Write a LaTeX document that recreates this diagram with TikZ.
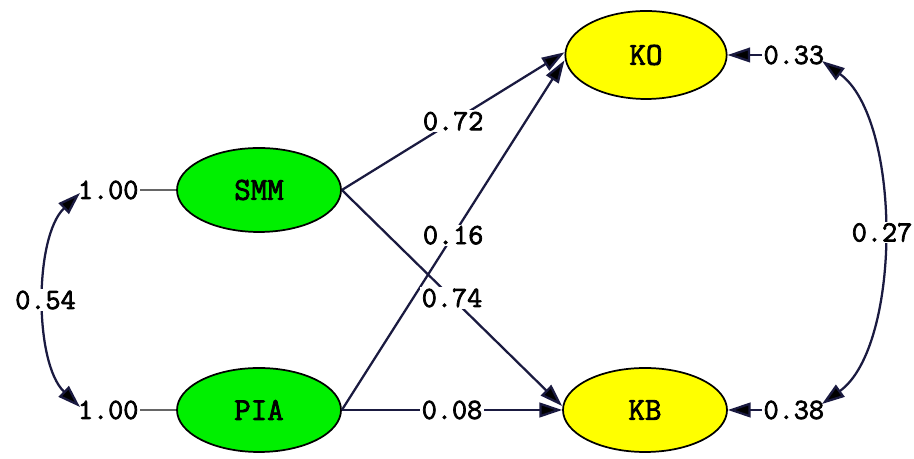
\documentclass[tikz,border=0pt]{standalone}
\usepackage{fontspec}
\setmonofont[AutoFakeBold=2.5]{Latin Modern Mono}
\usetikzlibrary{arrows.meta,shapes.geometric}
\definecolor{lvgreen}{HTML}{00F000}
\definecolor{lvyellow}{HTML}{FFFF00}
\definecolor{pathcol}{HTML}{1A1A40}
\begin{document}
\begin{tikzpicture}[x=0.75pt,y=0.75pt,
  latent/.style={ellipse,draw=black,line width=1.3pt,minimum width=123pt,minimum height=63pt,inner sep=0pt,font=\ttfamily\bfseries\fontsize{24}{26}\selectfont},
  num/.style={font=\ttfamily\bfseries\fontsize{22}{24}\selectfont,inner sep=1pt},
  lbl/.style={num,fill=white},
  tip/.style={-{Triangle[length=17pt,width=11pt,fill=black]}},
  twotip/.style={{Triangle[length=17pt,width=11pt,fill=black]}-{Triangle[length=17pt,width=11pt,fill=black]}},
  pathline/.style={draw=pathcol,line width=1.7pt},
  thin/.style={draw=gray!80!black,line width=0.8pt}]
\useasboundingbox (0,0) rectangle (914,459);
% latent variables
\node[latent,fill=lvgreen] (SMM) at (259,269) {SMM};
\node[latent,fill=lvgreen] (PIA) at (259,49) {PIA};
\node[latent,fill=lvyellow,minimum height=66pt,minimum width=121pt] (KO) at (646,404) {KO};
\node[latent,fill=lvyellow] (KB) at (645,49) {KB};
% variances
\node[num,anchor=east] (v1) at (140,269) {1.00};
\node[num,anchor=east] (v2) at (140,49) {1.00};
\node[num,anchor=west] (e1) at (762,404) {0.33};
\node[num,anchor=west] (e2) at (762,49) {0.38};
\draw[thin] (v1.east) -- (SMM.west);
\draw[thin] (v2.east) -- (PIA.west);
\draw[pathline,tip] (e1.west) -- (KO.east);
\draw[pathline,tip] (e2.west) -- (KB.east);
% covariances
\coordinate (c1) at (80,266);
\coordinate (c2) at (80,52);
\coordinate (c3) at (822,398);
\coordinate (c4) at (822,55);
\draw[pathline,twotip] (c1) .. controls (34,222) and (34,96) .. node[lbl,pos=0.5] {0.54} (c2);
\draw[pathline,twotip] (c3) .. controls (902,340) and (902,113) .. node[lbl,pos=0.5] {0.27} (c4);
% structural paths
\draw[pathline,tip] (SMM.east) -- node[lbl,midway] {0.72} ([yshift=2]KO.west);
\draw[pathline,tip] (PIA.east) -- node[lbl,midway] {0.16} ([yshift=-4]KO.west);
\draw[pathline,tip] (SMM.east) -- node[lbl,midway] {0.74} ([yshift=3]KB.west);
\draw[pathline,tip] (PIA.east) -- node[lbl,midway] {0.08} (KB.west);
\end{tikzpicture}
\end{document}
